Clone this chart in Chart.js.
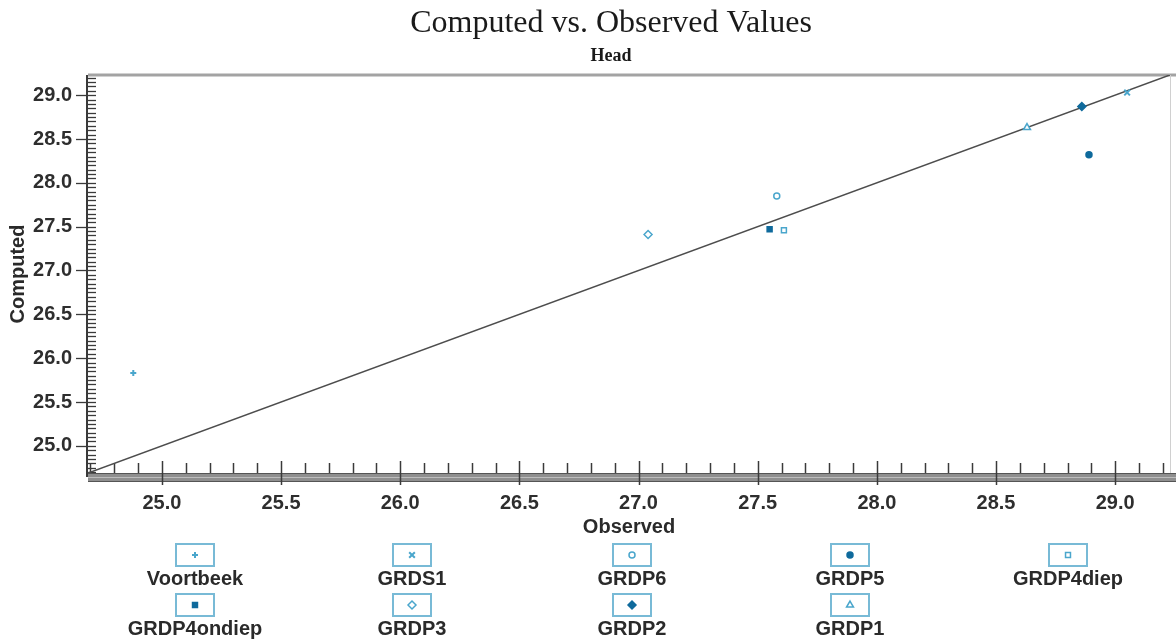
<!DOCTYPE html>
<html>
<head>
<meta charset="utf-8">
<script src="https://cdn.jsdelivr.net/npm/chart.js@4/dist/chart.umd.min.js"></script>
<style>
  html, body { margin: 0; padding: 0; background: #fff; }
  #wrap { width: 1176px; height: 644px; }
</style>
</head>
<body>
<div id="wrap"><canvas id="chart" width="1176" height="644"></canvas></div>
<script>
// values
const seriesNames = ["Voortbeek", "GRDS1", "GRDP6", "GRDP5", "GRDP4diep", "GRDP4ondiep", "GRDP3", "GRDP2", "GRDP1"];
const observedValues = [24.88, 29.05, 27.58, 28.89, 27.61, 27.55, 27.04, 28.86, 28.63];
const computedValues = [25.83, 29.03, 27.85, 28.32, 27.46, 27.47, 27.41, 28.87, 28.63];
const axisTicks = [25.0, 25.5, 26.0, 26.5, 27.0, 27.5, 28.0, 28.5, 29.0];
const axisMin = 24.69;
const axisMax = 29.23;

const markerShapes = ["cross", "crossRot", "circle", "circle", "rect", "rect", "rectRot", "rectRot", "triangle"];
const markerFilled = [false, false, false, true, false, true, false, true, false];
const markerSizes = [3, 4, 3, 3, 3.5, 3.5, 4, 4, 4];
const lightBlue = "#4aa6cc";
const darkBlue = "#0f6a9c";

function markerColor(i) {
  return markerFilled[i] ? darkBlue : lightBlue;
}

const datasets = seriesNames.map((name, i) => ({
  label: name,
  type: "scatter",
  data: [{ x: observedValues[i], y: computedValues[i] }],
  pointStyle: markerShapes[i],
  pointRadius: markerSizes[i],
  borderWidth: i < 2 ? 2 : 1.5,
  borderColor: markerColor(i),
  backgroundColor: markerFilled[i] ? darkBlue : "#fff",
}));

// 1:1 line
datasets.push({
  label: "1:1",
  type: "line",
  data: [{ x: axisMin, y: axisMin }, { x: axisMax, y: axisMax }],
  borderColor: "#4d4d4d",
  borderWidth: 1.6,
  pointRadius: 0,
  order: 10,
});

function line(ctx, x1, y1, x2, y2) {
  ctx.beginPath();
  ctx.moveTo(x1, y1);
  ctx.lineTo(x2, y2);
  ctx.stroke();
}

const decorations = {
  id: "decorations",
  beforeDatasetsDraw(chart) {
    const { ctx, chartArea: a, scales } = chart;
    const x = scales.x, y = scales.y;
    ctx.save();
    // top and right frame
    ctx.strokeStyle = "#a3a3a3";
    ctx.lineWidth = 3;
    line(ctx, a.left, a.top, 1176, a.top);
    ctx.strokeStyle = "#d0d0d0";
    ctx.lineWidth = 1;
    line(ctx, a.right + 0.5, a.top, a.right + 0.5, a.bottom);

    // y axis line and ticks
    ctx.strokeStyle = "#3a3a3a";
    ctx.lineWidth = 2;
    line(ctx, a.left - 1, a.top, a.left - 1, a.bottom + 4);
    ctx.lineWidth = 1.3;
    for (let v = 24.7; v <= axisMax + 1e-6; v += 0.05) {
      const py = Math.round(y.getPixelForValue(v)) + 0.5;
      const major = Math.abs(v * 2 - Math.round(v * 2)) < 1e-6;
      line(ctx, major ? a.left - 12 : a.left - 2, py, a.left + 8, py);
    }

    // x axis bar and ticks
    ctx.fillStyle = "#8f8f8f";
    ctx.fillRect(a.left, a.bottom, 1176 - a.left, 9);
    ctx.strokeStyle = "#555";
    ctx.lineWidth = 1;
    line(ctx, a.left, a.bottom + 0.5, 1176, a.bottom + 0.5);
    line(ctx, a.left, a.bottom + 8.5, 1176, a.bottom + 8.5);
    ctx.strokeStyle = "#bdbdbd";
    line(ctx, a.left, a.bottom + 4.5, 1176, a.bottom + 4.5);
    ctx.strokeStyle = "#3a3a3a";
    ctx.lineWidth = 1.5;
    for (let v = 24.7; v <= axisMax + 1e-6; v += 0.1) {
      const px = Math.round(x.getPixelForValue(v)) + 0.5;
      const major = Math.abs(v * 2 - Math.round(v * 2)) < 1e-6;
      line(ctx, px, major ? a.bottom - 12 : a.bottom - 10, px, major ? a.bottom + 12 : a.bottom);
    }
    ctx.restore();
  },
  afterDraw(chart) {
    const { ctx } = chart;
    ctx.save();
    ctx.fillStyle = "#1a1a1a";
    ctx.textAlign = "center";
    ctx.textBaseline = "middle";
    ctx.font = '32px "Liberation Serif"';
    ctx.fillText("Computed vs. Observed Values", 611, 24);
    ctx.font = 'bold 18px "Liberation Serif"';
    ctx.fillText("Head", 611, 56);

    // legend: box with marker above the name, 5 columns
    const cols = [195, 412, 632, 850, 1068];
    const boxRows = [555, 605];
    const labelRows = [579, 629];
    seriesNames.forEach((name, i) => {
      const cx = cols[i % 5];
      const r = Math.floor(i / 5);
      ctx.strokeStyle = "#78bad6";
      ctx.lineWidth = 2;
      ctx.fillStyle = "#fff";
      ctx.fillRect(cx - 19, boxRows[r] - 11, 38, 22);
      ctx.strokeRect(cx - 19, boxRows[r] - 11, 38, 22);
      ctx.strokeStyle = markerColor(i);
      ctx.fillStyle = markerFilled[i] ? darkBlue : "#fff";
      ctx.lineWidth = i < 2 ? 2 : 1.5;
      Chart.helpers.drawPoint(ctx, { pointStyle: markerShapes[i], radius: markerSizes[i], borderWidth: ctx.lineWidth, rotation: 0 }, cx, boxRows[r]);
      ctx.fillStyle = "#2a2a2a";
      ctx.font = 'bold 20px "Liberation Sans"';
      ctx.textAlign = "center";
      ctx.textBaseline = "middle";
      ctx.fillText(name, cx, labelRows[r]);
    });
    ctx.restore();
  },
};

new Chart(document.getElementById("chart"), {
  data: { datasets: datasets },
  options: {
    responsive: false,
    animation: false,
    devicePixelRatio: 1,
    layout: { padding: { top: 75, right: 3, left: 0, bottom: 0 } },
    plugins: { legend: { display: false }, tooltip: { enabled: false } },
    scales: {
      x: {
        type: "linear",
        min: axisMin,
        max: axisMax,
        afterBuildTicks: (s) => { s.ticks = axisTicks.map((v) => ({ value: v })); },
        afterFit: (s) => { s.height = 171; },
        grid: { display: false, drawTicks: false },
        border: { display: false },
        ticks: {
          padding: 18,
          color: "#2e2e2e",
          font: { family: "Liberation Sans", size: 20, weight: "bold" },
          callback: (v) => Number(v).toFixed(1),
        },
        title: {
          display: true,
          text: "Observed",
          color: "#2a2a2a",
          font: { family: "Liberation Sans", size: 20, weight: "bold" },
          padding: { top: 0, bottom: 105 },
        },
      },
      y: {
        type: "linear",
        min: axisMin,
        max: axisMax,
        afterBuildTicks: (s) => { s.ticks = axisTicks.map((v) => ({ value: v })); },
        afterFit: (s) => { s.width = 88; },
        grid: { display: false, drawTicks: false },
        border: { display: false },
        ticks: {
          padding: 16,
          color: "#2e2e2e",
          font: { family: "Liberation Sans", size: 20, weight: "bold" },
          callback: (v) => Number(v).toFixed(1),
        },
        title: {
          display: true,
          text: "Computed",
          color: "#2a2a2a",
          font: { family: "Liberation Sans", size: 20, weight: "bold" },
          padding: { top: 6, bottom: 0 },
        },
      },
    },
  },
  plugins: [decorations],
});
</script>
</body>
</html>
